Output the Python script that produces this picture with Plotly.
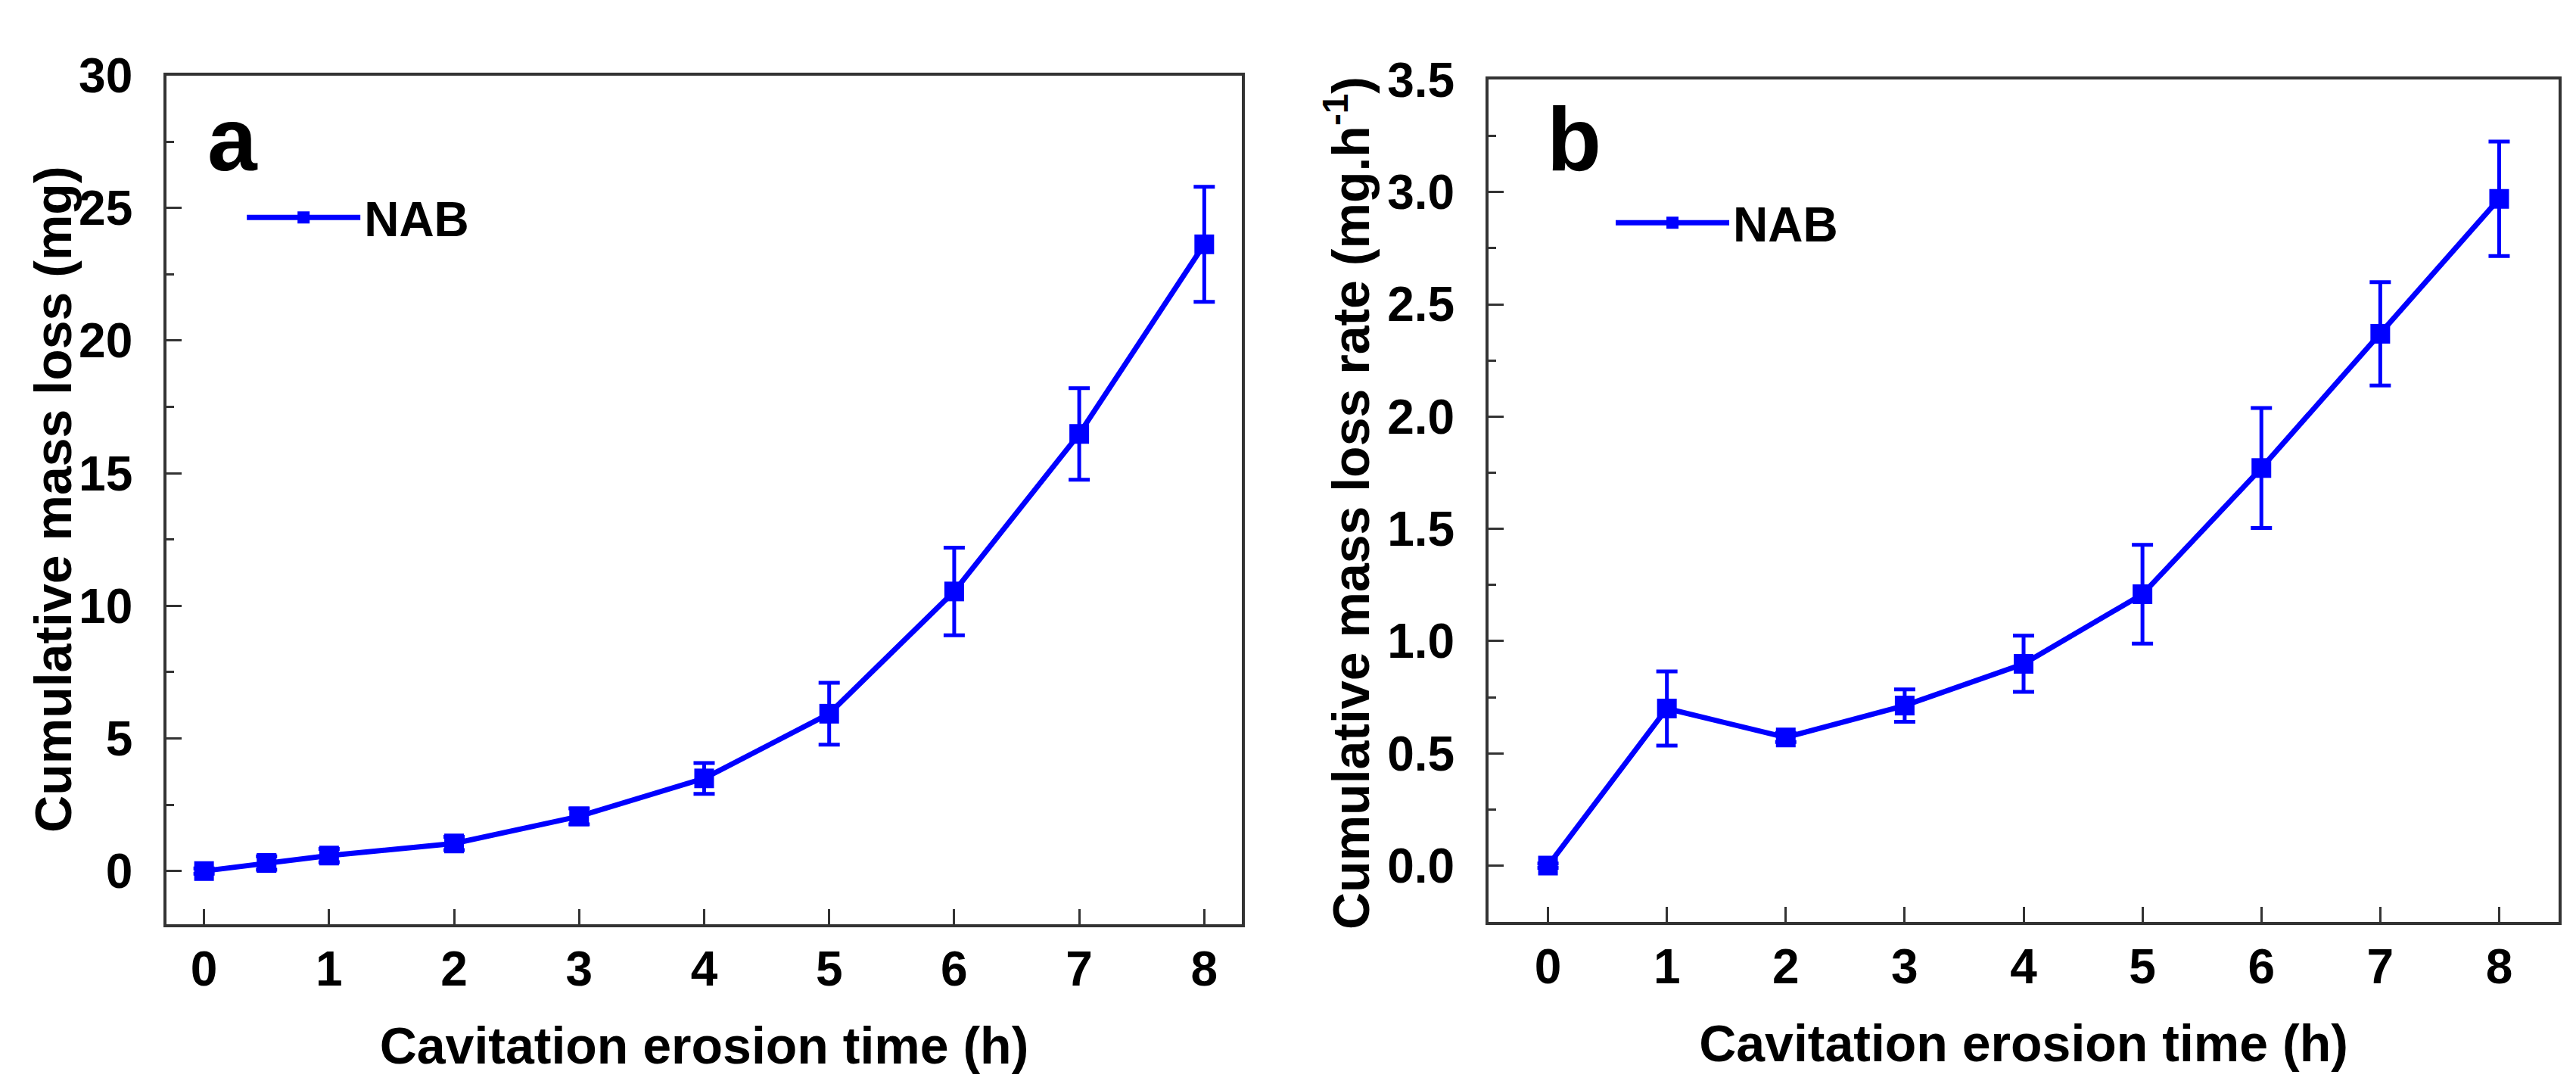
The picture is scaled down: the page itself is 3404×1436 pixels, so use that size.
import plotly.graph_objects as go

# panel a: cumulative mass loss
time_a = [0, 0.5, 1, 2, 3, 4, 5, 6, 7, 8]
mass_loss = [0, 0.3, 0.58, 1.04, 2.06, 3.49, 5.93, 10.54, 16.48, 23.63]
mass_loss_err = [0.1, 0.25, 0.25, 0.25, 0.3, 0.58, 1.17, 1.65, 1.73, 2.17]

# panel b: cumulative mass loss rate
time_b = [0, 1, 2, 3, 4, 5, 6, 7, 8]
loss_rate = [0, 0.70, 0.571, 0.713, 0.899, 1.209, 1.771, 2.369, 2.97]
loss_rate_err = [0.01, 0.165, 0.02, 0.072, 0.125, 0.22, 0.267, 0.23, 0.255]

x_ticks = list(range(0, 9))

BLUE = "#0000FF"
AXIS = "#333333"
FONT = "Liberation Sans, Arial, sans-serif"

fig = go.Figure()

fig.add_trace(
    go.Scatter(
        x=time_a,
        y=mass_loss,
        error_y=dict(type="data", array=mass_loss_err, color=BLUE, thickness=5, width=14),
        mode="lines+markers",
        name="NAB",
        line=dict(color=BLUE, width=7),
        marker=dict(symbol="square", size=26, color=BLUE),
        xaxis="x",
        yaxis="y",
        legend="legend",
        showlegend=True,
    )
)
fig.add_trace(
    go.Scatter(
        x=time_b,
        y=loss_rate,
        error_y=dict(type="data", array=loss_rate_err, color=BLUE, thickness=5, width=14),
        mode="lines+markers",
        name="NAB",
        line=dict(color=BLUE, width=7),
        marker=dict(symbol="square", size=26, color=BLUE),
        xaxis="x2",
        yaxis="y2",
        legend="legend2",
        showlegend=True,
    )
)

tick_font = dict(family=FONT, size=64, color="black", weight="bold")
title_font = dict(family=FONT, size=68, color="black", weight="bold")
label_font = dict(family=FONT, size=118, color="black", weight="bold")

common_x = dict(
    tickvals=x_ticks,
    ticks="inside",
    ticklen=20,
    tickwidth=3,
    tickcolor=AXIS,
    showline=True,
    linewidth=4,
    linecolor=AXIS,
    mirror=True,
    showgrid=False,
    zeroline=False,
    tickfont=tick_font,
    ticklabelstandoff=0,
)
common_y = dict(
    ticks="inside",
    ticklen=20,
    tickwidth=3,
    tickcolor=AXIS,
    showline=True,
    linewidth=4,
    linecolor=AXIS,
    mirror=True,
    showgrid=False,
    zeroline=False,
    tickfont=tick_font,
    ticklabelstandoff=28,
)

fig.update_layout(
    width=3404,
    height=1436,
    margin=dict(l=0, r=0, t=0, b=0),
    paper_bgcolor="white",
    plot_bgcolor="white",
    showlegend=True,
    xaxis=dict(
        common_x,
        domain=[0.0623, 0.4797],
        range=[-0.3, 8.3],
        title=dict(text="Cavitation erosion time (h)", font=title_font, standoff=44),
    ),
    yaxis=dict(
        common_y,
        domain=[0.1595, 0.9603],
        range=[-2, 30],
        tickvals=[0, 5, 10, 15, 20, 25, 30],
        minor=dict(ticks="inside", ticklen=10, tickwidth=3, tickcolor=AXIS, dtick=2.5, tick0=0),
    ),
    xaxis2=dict(
        common_x,
        domain=[0.5755, 0.9909],
        range=[-0.5, 8.5],
        anchor="y2",
        title=dict(text="Cavitation erosion time (h)", font=title_font, standoff=44),
    ),
    yaxis2=dict(
        common_y,
        domain=[0.1616, 0.9561],
        range=[-0.25, 3.5],
        anchor="x2",
        tickvals=[0, 0.5, 1, 1.5, 2, 2.5, 3, 3.5],
        tickformat=".1f",
        minor=dict(ticks="inside", ticklen=10, tickwidth=3, tickcolor=AXIS, dtick=0.25, tick0=0),
    ),
    legend=dict(
        x=0.092, y=0.826, xanchor="left", yanchor="middle",
        bgcolor="rgba(0,0,0,0)", font=tick_font, itemwidth=150,
    ),
    legend2=dict(
        x=0.6234, y=0.821, xanchor="left", yanchor="middle",
        bgcolor="rgba(0,0,0,0)", font=tick_font, itemwidth=150,
    ),
    annotations=[
        dict(text="Cumulative mass loss (mg)", x=0.0182, y=0.56,
             xref="paper", yref="paper", xanchor="center", yanchor="middle",
             textangle=-90, showarrow=False, font=title_font),
        dict(text="Cumulative mass loss rate (mg.h<sup>-1</sup>)", x=0.5208, y=0.557,
             xref="paper", yref="paper", xanchor="center", yanchor="middle",
             textangle=-90, showarrow=False, font=title_font),
        dict(text="a", x=0.0775, y=0.8997, xref="paper", yref="paper",
             xanchor="left", yanchor="middle", showarrow=False, font=label_font),
        dict(text="b", x=0.5975, y=0.8997, xref="paper", yref="paper",
             xanchor="left", yanchor="middle", showarrow=False, font=label_font),
    ],
)

fig.write_html("out.html")
